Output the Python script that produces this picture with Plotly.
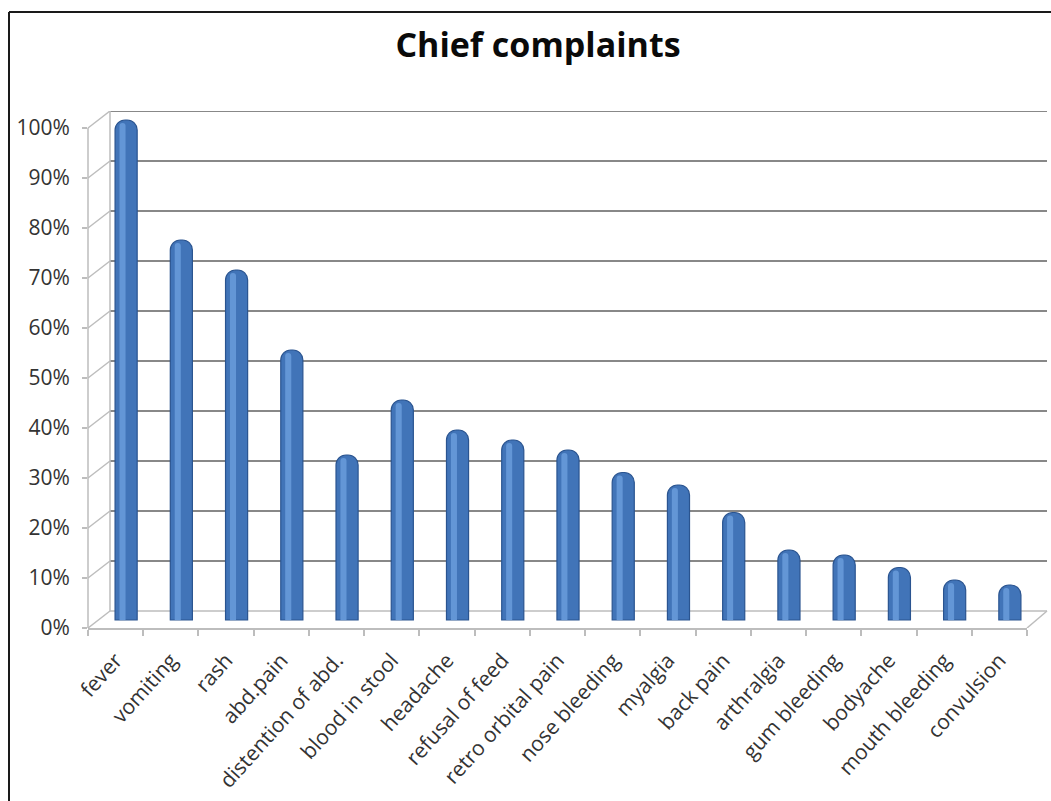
import plotly.graph_objects as go

# ---------------- data ----------------
categories = ["fever", "vomiting", "rash", "abd.pain", "distention of abd.",
              "blood in stool", "headache", "refusal of feed", "retro orbital pain",
              "nose bleeding", "myalgia", "back pain", "arthralgia", "gum bleeding",
              "bodyache", "mouth bleeding", "convulsion"]
percent = [100, 76, 70, 54, 33, 44, 38, 36, 34, 29.5, 27, 21.5, 14, 13, 10.5, 8, 7]
y_ticks = [0, 10, 20, 30, 40, 50, 60, 70, 80, 90, 100]
y_tick_text = [f"{v}%" for v in y_ticks]
title_text = "Chief complaints"

# ---------------- geometry (pixels) ----------------
W, H = 1051, 801
L, R = 88, 1027          # front plot area left / right
TOP, BOT = 111, 628      # back-wall top / front floor
PX = 5.0                 # pixels per percent
DEPTH_X, DEPTH_Y = 22, 17  # 3D depth offset
BAR_SHIFT = 8            # bars sit in mid depth

plot_w = R - L
plot_h = BOT - TOP
y_top = plot_h / PX
dy = DEPTH_Y / PX
bar_dy = BAR_SHIFT / PX
dxp = DEPTH_X / plot_w
right_p = (1047 - L) / plot_w

fig = go.Figure()

# cylinder body
fig.add_trace(go.Bar(
    x=categories, y=percent, yaxis="y2",
    width=0.4, offset=-0.01,
    marker=dict(color="#4174B8", line=dict(color="#2A5490", width=1.2), cornerradius=10),
    hoverinfo="x+y", showlegend=False,
))
# highlight stripe
fig.add_trace(go.Bar(
    x=categories, y=[v - 0.6 for v in percent], yaxis="y2",
    width=0.11, offset=0.07,
    marker=dict(color="#6396D6", line=dict(width=0), cornerradius=4),
    hoverinfo="skip", showlegend=False,
))

shapes = []
grid_col = "#888888"
light_col = "#bdbdbd"
for v in y_ticks:
    # back wall gridline
    shapes.append(dict(type="line", xref="paper", yref="y", x0=dxp, x1=right_p,
                       y0=v + dy, y1=v + dy,
                       line=dict(color=grid_col if v > 0 else light_col, width=2.2 if v > 0 else 1.5),
                       layer="below"))
    # left wall diagonal
    shapes.append(dict(type="line", xref="paper", yref="y", x0=0, x1=dxp,
                       y0=v, y1=v + dy, line=dict(color=light_col, width=1.5), layer="below"))
# back-left vertical edge
shapes.append(dict(type="line", xref="paper", yref="y", x0=dxp, x1=dxp,
                   y0=dy, y1=y_ticks[-1] + dy, line=dict(color=light_col, width=1.5), layer="below"))
# front-left vertical axis
shapes.append(dict(type="line", xref="paper", yref="y", x0=0, x1=0,
                   y0=0, y1=y_ticks[-1], line=dict(color=light_col, width=1.5), layer="below"))
# floor right diagonal
shapes.append(dict(type="line", xref="paper", yref="y", x0=1, x1=right_p,
                   y0=0, y1=dy, line=dict(color=light_col, width=1.5), layer="below"))
# outer frame (top and left)
fx = (9 - L) / plot_w
fy_top = (BOT - 12) / plot_h
fy_bot = (BOT - H) / plot_h
fx_right = (W - L) / plot_w
shapes.append(dict(type="line", xref="paper", yref="paper", x0=fx, x1=fx_right,
                   y0=fy_top, y1=fy_top, line=dict(color="#1a1a1a", width=2)))
shapes.append(dict(type="line", xref="paper", yref="paper", x0=fx, x1=fx,
                   y0=fy_top, y1=fy_bot, line=dict(color="#1a1a1a", width=2)))

fig.update_layout(
    width=W, height=H,
    margin=dict(l=L, r=W - R, t=TOP, b=H - BOT, pad=0, autoexpand=False),
    paper_bgcolor="white", plot_bgcolor="white",
    barmode="overlay",
    title=dict(text=title_text, x=538 / W, xanchor="center", xref="container",
               y=1 - 45 / H, yanchor="middle", yref="container",
               font=dict(family="Open Sans", size=34, color="#0a0a0a", weight="bold")),
    font=dict(family="Open Sans", color="#333333"),
    xaxis=dict(
        type="category", range=[-0.5, len(categories) - 0.5],
        tickangle=-48, tickfont=dict(size=21, color="#333333"),
        showline=True, linecolor=light_col, linewidth=1.5,
        ticks="outside", ticklen=6, tickcolor=light_col, tickwidth=1.5,
        tickson="boundaries", showgrid=False, zeroline=False,
        ticklabelstandoff=10, fixedrange=True, automargin=False,
    ),
    yaxis=dict(
        range=[0, y_top], tickvals=y_ticks, ticktext=y_tick_text,
        tickfont=dict(size=21, color="#333333"),
        showgrid=False, zeroline=False, showline=False,
        ticks="outside", ticklen=5, tickcolor=light_col, tickwidth=1.5,
        ticklabelstandoff=8, fixedrange=True, automargin=False,
    ),
    yaxis2=dict(
        overlaying="y", range=[-bar_dy, y_top - bar_dy],
        visible=False, fixedrange=True,
    ),
    shapes=shapes,
)

fig.write_html("out.html")
